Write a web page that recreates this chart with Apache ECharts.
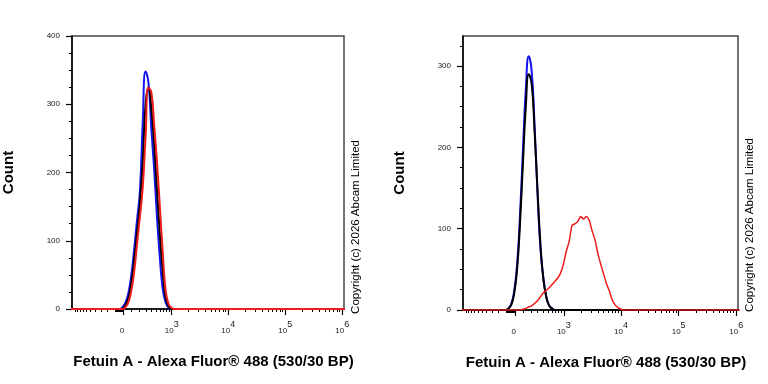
<!DOCTYPE html>
<html>
<head>
<meta charset="utf-8">
<script src="https://cdn.jsdelivr.net/npm/echarts@6/dist/echarts.min.js"></script>
<style>
html, body { margin: 0; padding: 0; background: #fff; }
#main { width: 768px; height: 384px; }
</style>
</head>
<body>
<div id="main"></div>
<script>
// biexponential display scale: ~linear around 0, log10 above ~10^3
var W = 144.5;
function biex(v) { return Math.log10(v / 2 + Math.sqrt(v * v / 4 + W * W)); }

var FONT = '"Liberation Sans", Arial, Helvetica, sans-serif';
var xTitle = 'Fetuin A - Alexa Fluor® 488 (530/30 BP)';
var yTitle = 'Count';
var copyright = 'Copyright (c) 2026 Abcam Limited';

var xLabelValues = [0, 1e3, 1e4, 1e5, 1e6];
var xLabelText = ['{b|0}{s| }', '{b|10}{s|3}', '{b|10}{s|4}', '{b|10}{s|5}', '{b|10}{s|6}'];
var xRange = [-1130, 1.07e6];

var leftYMax = 400;
var leftYLabels = [0, 100, 200, 300, 400];
var rightYMax = 337;
var rightYLabels = [0, 100, 200, 300];

// fluorescence intensity bins and counts, left panel
var leftBins  = [-40, -7, 27, 60, 95, 131, 168, 208, 250, 296, 346, 400, 460, 525, 598, 678, 768, 868, 979, 1103];
var leftBlue  = [0, 3, 10, 24, 50, 88, 130, 172, 272, 348, 332, 265, 205, 135, 75, 30, 10, 2, 0, 0];
var leftBlack = [0, 1, 6, 16, 38, 72, 112, 155, 215, 300, 324, 295, 240, 175, 110, 55, 18, 5, 0, 0];
var leftRed   = [0, 0, 3, 10, 27, 55, 95, 135, 178, 252, 324, 318, 270, 215, 150, 85, 28, 8, 2, 0];

// right panel
var rightBins = [-109, -74, -40, -7, 27, 60, 95, 131, 168, 208, 250, 296, 346, 400, 460, 525, 598, 678, 768, 868,
  979, 1103, 1242, 1398, 1572, 1767, 1985, 2229, 2504, 2811, 3156, 3542, 3976, 4462, 5008, 5620, 6306, 7077, 7941, 8910,
  9998, 11218];
var rightBlue = [0, 2, 8, 24, 58, 118, 198, 273, 312, 294, 229, 147, 78, 42, 18, 6, 2, 0, 0, 0,
  0, 0, 0, 0, 0, 0, 0, 0, 0, 0, 0, 0, 0, 0, 0, 0, 0, 0, 0, 0, 0, 0];
var rightBlack = [0, 2, 7, 21, 52, 108, 182, 252, 290, 278, 222, 150, 84, 40, 17, 6, 2, 0, 0, 0,
  0, 0, 0, 0, 0, 0, 0, 0, 0, 0, 0, 0, 0, 0, 0, 0, 0, 0, 0, 0, 0, 0];
var rightRed = [0, 0, 0, 0, 0, 0, 1, 2, 4, 5, 8, 11, 16, 21, 24, 27, 31, 35, 39, 45,
  56, 72, 84, 104, 106, 109, 115, 112, 115, 110, 97, 86, 69, 56, 44, 32, 23, 12, 6, 3, 1, 0];

// minor ticks of the biex axis
var xMinor = [];
for (var k = 1; k <= 9; k++) { xMinor.push(-k * 10); xMinor.push(-k * 100); xMinor.push(k * 100); }
xMinor.push(-1000);
for (var d = 3; d <= 5; d++) for (var m = 2; m <= 9; m++) xMinor.push(m * Math.pow(10, d));
xMinor = xMinor.map(biex);

function yMinor(max) {
  var out = [];
  for (var v = 25; v <= max; v += 25) if (v % 100) out.push(v);
  return out;
}

function curve(bins, counts) {
  var pts = [[biex(-3000), 0]];
  for (var i = 0; i < bins.length; i++) pts.push([biex(bins[i]), counts[i]]);
  pts.push([biex(3e6), 0]);
  return pts;
}

function xAxes(grid) {
  var lo = biex(xRange[0]), hi = biex(xRange[1]);
  return [{
    type: 'value', gridIndex: grid, position: 'bottom', min: lo, max: hi,
    name: xTitle, nameLocation: 'middle', nameGap: 45,
    nameTextStyle: { fontSize: 15, fontWeight: 'bold', color: '#000', fontFamily: FONT, padding: [0, 0, 0, 11] },
    axisLine: { show: true, lineStyle: { color: '#000', width: 1.5 } },
    axisTick: { show: true, length: 6, customValues: xLabelValues.map(biex), lineStyle: { color: '#000', width: 1.2 } },
    axisLabel: {
      show: true, margin: 11, customValues: xLabelValues.map(biex),
      formatter: function (val) {
        for (var i = 0; i < xLabelValues.length; i++) {
          if (Math.abs(biex(xLabelValues[i]) - val) < 1e-6) return xLabelText[i];
        }
        return '';
      },
      rich: {
        b: { fontSize: 8, color: '#222', fontFamily: FONT, verticalAlign: 'bottom' },
        s: { fontSize: 9, color: '#222', fontFamily: FONT, verticalAlign: 'bottom', padding: [0, 0, 6, 0] }
      }
    },
    splitLine: { show: false }
  }, {
    type: 'value', gridIndex: grid, position: 'bottom', min: lo, max: hi,
    axisLine: { show: false },
    axisTick: { show: true, length: 3, customValues: xMinor, lineStyle: { color: '#000', width: 1 } },
    axisLabel: { show: false },
    splitLine: { show: false }
  }];
}

function yAxes(grid, max, labels) {
  return [{
    type: 'value', gridIndex: grid, position: 'left', min: 0, max: max,
    name: yTitle, nameLocation: 'middle', nameGap: 56,
    nameTextStyle: { fontSize: 15, fontWeight: 'bold', color: '#000', fontFamily: FONT },
    axisLine: { show: true, lineStyle: { color: '#000', width: 1.5 } },
    axisTick: { show: true, length: 6, customValues: labels, lineStyle: { color: '#000', width: 1.2 } },
    axisLabel: { show: true, margin: 12, customValues: labels, fontSize: 8, color: '#222', fontFamily: FONT },
    splitLine: { show: false }
  }, {
    type: 'value', gridIndex: grid, position: 'left', min: 0, max: max,
    axisLine: { show: false },
    axisTick: { show: true, length: 3, customValues: yMinor(max), lineStyle: { color: '#000', width: 1 } },
    axisLabel: { show: false },
    splitLine: { show: false }
  }];
}

function line(name, xi, data, color, width, smooth) {
  return {
    name: name, type: 'line', xAxisIndex: xi, yAxisIndex: xi, data: data,
    showSymbol: false, smooth: smooth,
    lineStyle: { color: color, width: width }, itemStyle: { color: color }
  };
}

var myChart = echarts.init(document.getElementById('main'));
var option = {
  backgroundColor: '#fff',
  animation: false,
  textStyle: { fontFamily: FONT },
  grid: [
    { left: 70, top: 36, width: 274, height: 273, show: true, borderColor: '#444', borderWidth: 1.5 },
    { left: 463, top: 36, width: 275, height: 274, show: true, borderColor: '#444', borderWidth: 1.5 }
  ],
  xAxis: xAxes(0).concat(xAxes(1)),
  yAxis: yAxes(0, leftYMax, leftYLabels).concat(yAxes(1, rightYMax, rightYLabels)),
  series: [
    line('blue', 0, curve(leftBins, leftBlue), '#1414f0', 2, 0.5),
    line('black', 0, curve(leftBins, leftBlack), '#000000', 2, 0.5),
    line('red', 0, curve(leftBins, leftRed), '#ee1c1c', 2, 0.5),
    line('blue', 2, curve(rightBins, rightBlue), '#1414f0', 2, 0.5),
    line('black', 2, curve(rightBins, rightBlack), '#000000', 2, 0.5),
    line('red', 2, curve(rightBins, rightRed), '#ee1c1c', 1.5, 0.2)
  ],
  graphic: [
    { type: 'text', x: 356, y: 227, rotation: Math.PI / 2,
      style: { text: copyright, fontSize: 11.5, fontFamily: FONT, fill: '#000', align: 'center', verticalAlign: 'middle' } },
    { type: 'text', x: 750, y: 225, rotation: Math.PI / 2,
      style: { text: copyright, fontSize: 11.5, fontFamily: FONT, fill: '#000', align: 'center', verticalAlign: 'middle' } }
  ]
};
myChart.setOption(option, true);
</script>
</body>
</html>
